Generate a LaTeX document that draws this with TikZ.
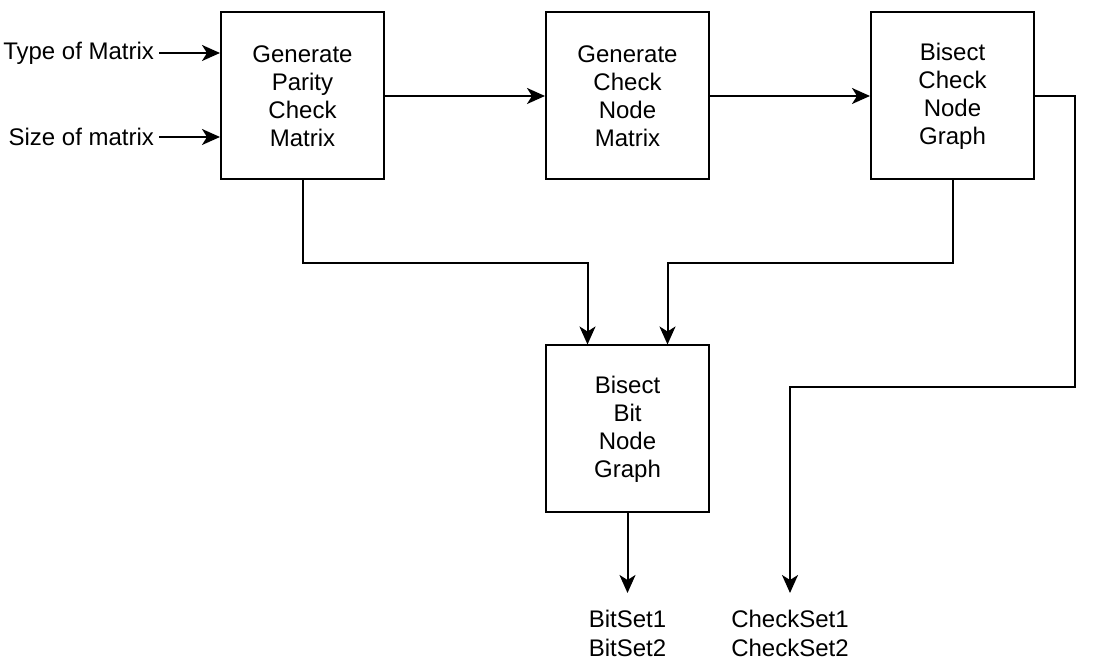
\documentclass[tikz,border=0pt]{standalone}
\usepackage{fontspec}
\setmainfont{Liberation Sans}
\usetikzlibrary{arrows.meta}

\begin{document}
\begin{tikzpicture}[x=0.5pt,y=-0.5pt,line width=1pt,
    block/.style={draw,minimum width=81.5pt,minimum height=83.5pt,align=center,
      font=\fontsize{12}{14}\selectfont},
    intxt/.style={anchor=east,inner sep=2pt,font=\fontsize{12}{14}\selectfont},
    outtxt/.style={anchor=north,align=center,inner xsep=0pt,inner ysep=8pt,
      font=\fontsize{12}{14.5}\selectfont},
    >={Stealth[length=9pt,width=8pt,inset=2.5pt]}]
       \useasboundingbox (0,0) rectangle (1094,663);
       % Draw the four blocks
       \node[block] (pcm) at (302.5,96) {Generate\\Parity\\Check\\Matrix};
       \node[block] (cnm) at (627.5,96) {Generate\\Check\\Node\\Matrix};
       \node[block] (bcn) at (952.5,96) {Bisect\\Check\\Node\\Graph};
       \node[block] (bbn) at (627.5,429) {Bisect\\Bit\\Node\\Graph};
       % Inputs and outputs
       \node[intxt] (type) at (159,53) {Type of Matrix};
       \node[intxt] (size) at (159,137) {Size of matrix};
       \node[outtxt] (bits) at (627.5,593) {BitSet1\\BitSet2};
       \node[outtxt] (chks) at (790,593) {CheckSet1\\CheckSet2};

       \draw[->] (type.east) -- (type -| pcm.west);
       \draw[->] (size.east) -- (size -| pcm.west);
       \draw[->] (pcm.east) -- (cnm.west);
       \draw[->] (cnm.east) -- (bcn.west);
       \draw[->] (pcm.south) -- ++(0,83) -| ([xshift=-20pt]bbn.north);
       \draw[->] (bcn.south) -- ++(0,83) -| ([xshift=20pt]bbn.north);
       \draw[->] (bbn.south) -- (bits.north);
       \draw[->] (bcn.east) -- ++(40,0) -- ++(0,291) -| (chks.north);
\end{tikzpicture}
\end{document}
